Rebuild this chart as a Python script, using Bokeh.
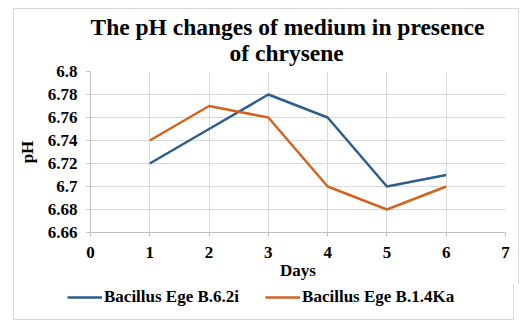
from bokeh.plotting import figure
from bokeh.layouts import column
from bokeh.models import (FixedTicker, CustomJSTickFormatter, Title, Legend, LegendItem)
from bokeh.embed import file_html
from bokeh.resources import INLINE

days = [1, 2, 3, 4, 5, 6]
ph_b62i = [6.72, 6.75, 6.78, 6.76, 6.70, 6.71]
ph_b14ka = [6.74, 6.77, 6.76, 6.70, 6.68, 6.70]
series_names = ["Bacillus Ege B.6.2i", "Bacillus Ege B.1.4Ka"]
series_colors = ["#2e5e8e", "#cf6520"]
x_ticks = [0, 1, 2, 3, 4, 5, 6, 7]
y_ticks = [6.66, 6.68, 6.70, 6.72, 6.74, 6.76, 6.78, 6.80]
title_lines = ["The pH changes of medium in presence", "of chrysene"]

FONT = "Liberation Serif"
BORDER = "1px solid #d9d9d9"

p = figure(frame_width=413, frame_height=160, output_backend="svg", toolbar_location=None,
           title=None, x_range=(0, 7), y_range=(6.66, 6.80),
           min_border_left=73, min_border_right=15, min_border_bottom=53, min_border_top=62)
p.styles = {"border-top": BORDER, "border-left": BORDER, "border-right": BORDER}
p.frame_align = False

l1 = p.line(days, ph_b62i, line_color=series_colors[0], line_width=2.5)
l2 = p.line(days, ph_b14ka, line_color=series_colors[1], line_width=2.5)

# second line first (closest to the plot), then first line
p.add_layout(Title(text=title_lines[1], align="left", text_font=FONT, text_font_size="23.5px",
                   text_font_style="bold", text_color="#000000",
                   standoff=12, offset=139), "above")
p.add_layout(Title(text=title_lines[0], align="left", text_font=FONT, text_font_size="23.5px",
                   text_font_style="bold", text_color="#000000",
                   standoff=-16, offset=0), "above")

p.xaxis.ticker = FixedTicker(ticks=x_ticks)
p.yaxis.ticker = FixedTicker(ticks=y_ticks)
p.yaxis.formatter = CustomJSTickFormatter(code="return String(Number(tick.toFixed(2)));")
p.xaxis.axis_label = "Days"
p.yaxis.axis_label = "pH"
for ax in (p.xaxis, p.yaxis):
    ax.axis_label_text_font = FONT
    ax.axis_label_text_font_style = "bold"
    ax.axis_label_text_font_size = "17px"
    ax.axis_label_text_color = "#000000"
    ax.major_label_text_font = FONT
    ax.major_label_text_font_style = "bold"
    ax.major_label_text_font_size = "17px"
    ax.major_label_text_color = "#000000"
    ax.axis_line_color = "#bfbfbf"
    ax.major_tick_line_color = "#bfbfbf"
    ax.major_tick_out = 4
    ax.major_tick_in = 0
    ax.minor_tick_line_color = None
p.xaxis.axis_label_standoff = 0
p.yaxis.axis_label_standoff = 8
p.xaxis.major_label_standoff = 10
p.yaxis.major_label_standoff = 9

p.xgrid.grid_line_color = "#d9d9d9"
p.ygrid.grid_line_color = "#d9d9d9"
p.outline_line_color = None

# legend strip below the chart
p2 = figure(width=501, height=36, output_backend="svg", toolbar_location=None,
            title=None, x_range=(0, 1), y_range=(0, 1), min_border=0)
p2.styles = {"border-bottom": BORDER, "border-left": BORDER, "border-right": BORDER}
p2.frame_align = False
p2.axis.visible = False
p2.grid.visible = False
p2.outline_line_color = None
d1 = p2.line([5, 6], [5, 6], line_color=series_colors[0], line_width=2.5)
d2 = p2.line([5, 6], [5, 6], line_color=series_colors[1], line_width=2.5)
legend = Legend(items=[LegendItem(label=series_names[0], renderers=[d1]),
                       LegendItem(label=series_names[1], renderers=[d2])],
                orientation="horizontal", location=(53, 13),
                label_text_font=FONT, label_text_font_style="bold",
                label_text_font_size="17px", label_text_color="#000000",
                glyph_width=35, label_standoff=2, spacing=26,
                border_line_color=None, background_fill_alpha=0,
                margin=0, padding=0)
p2.add_layout(legend)

layout = column(p, p2, spacing=0, styles={"margin-left": "13px", "margin-top": "8px"})

open("out.html", "w").write(file_html(layout, INLINE))
